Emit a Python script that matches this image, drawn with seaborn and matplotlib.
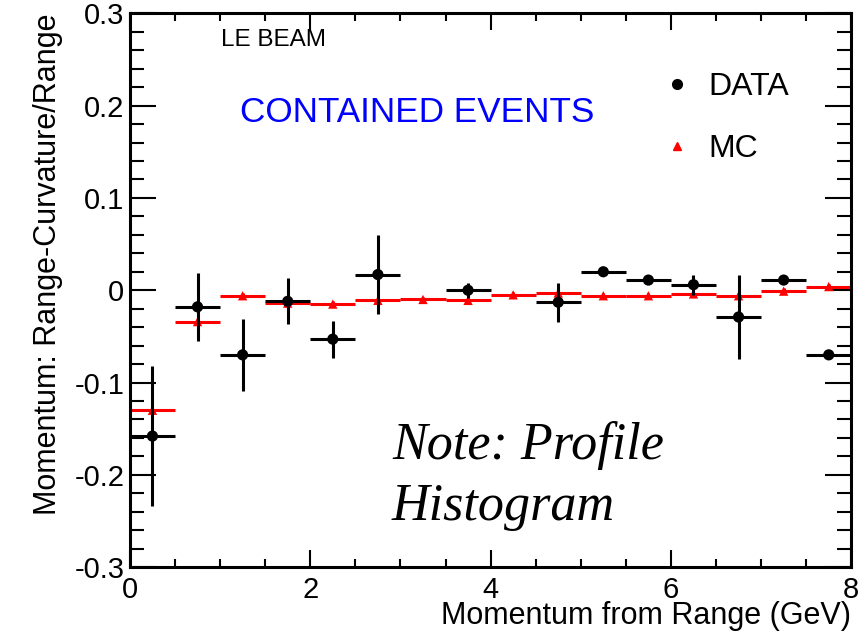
import numpy as np
import pandas as pd
import seaborn as sns
import matplotlib.pyplot as plt
from matplotlib.lines import Line2D
from matplotlib.ticker import MultipleLocator, FuncFormatter

# bin centres (GeV), bin half width 0.25
bins = [0.25, 0.75, 1.25, 1.75, 2.25, 2.75, 3.25, 3.75,
        4.25, 4.75, 5.25, 5.75, 6.25, 6.75, 7.25, 7.75]

# DATA profile (empty bins left out)
data_x = [0.25, 0.75, 1.25, 1.75, 2.25, 2.75, 3.75, 4.75,
          5.25, 5.75, 6.25, 6.75, 7.25, 7.75]
data_y = [-0.158, -0.018, -0.070, -0.012, -0.053, 0.017, 0.000, -0.013,
          0.020, 0.011, 0.006, -0.029, 0.011, -0.070]
data_err = [0.076, 0.037, 0.039, 0.025, 0.020, 0.043, 0.008, 0.021,
            0.004, 0.003, 0.011, 0.046, 0.004, 0.003]

# MC profile
mc_y = [-0.130, -0.034, -0.006, -0.014, -0.015, -0.011, -0.010, -0.011,
        -0.005, -0.003, -0.006, -0.006, -0.004, -0.006, -0.001, 0.004]
mc_err = [0.003] * 16

half_width = 0.25

df_data = pd.DataFrame({'x': data_x, 'y': data_y, 'err': data_err})
df_mc = pd.DataFrame({'x': bins, 'y': mc_y, 'err': mc_err})

sns.set_style('ticks')
plt.rcParams['font.family'] = ['Liberation Sans', 'DejaVu Sans']
plt.rcParams['axes.unicode_minus'] = False
plt.rcParams['text.color'] = 'black'
plt.rcParams['axes.labelcolor'] = 'black'

fig = plt.figure(figsize=(8.66, 6.33), dpi=100)
ax = fig.add_axes([0.150, 0.104, 0.833, 0.875])

# MC: red triangles with horizontal bin bars
ax.errorbar(df_mc['x'], df_mc['y'], xerr=half_width, yerr=df_mc['err'],
            fmt='none', ecolor='red', elinewidth=2.2, capsize=0, zorder=2)
sns.scatterplot(data=df_mc, x='x', y='y', marker='^', color='red', s=45,
                edgecolor='none', ax=ax, zorder=3)

# DATA: black dots
ax.errorbar(df_data['x'], df_data['y'], xerr=half_width, yerr=df_data['err'],
            fmt='none', ecolor='black', elinewidth=2.2, capsize=0, zorder=4)
sns.scatterplot(data=df_data, x='x', y='y', marker='o', color='black', s=65,
                edgecolor='none', ax=ax, zorder=5)

ax.set_xlim(0, 8)
ax.set_ylim(-0.3, 0.3)
ax.xaxis.set_major_locator(MultipleLocator(2))
ax.xaxis.set_minor_locator(MultipleLocator(0.5))
ax.yaxis.set_major_locator(MultipleLocator(0.1))
ax.yaxis.set_minor_locator(MultipleLocator(0.02))
ax.yaxis.set_major_formatter(FuncFormatter(lambda v, p: '%g' % round(v, 2)))
ax.tick_params(axis='both', which='both', direction='in', top=True, right=True,
               labelsize=21, colors='black', width=1.5)
ax.tick_params(axis='y', which='major', length=19, pad=4)
ax.tick_params(axis='y', which='minor', length=10)
ax.tick_params(axis='x', which='major', length=12, pad=6)
ax.tick_params(axis='x', which='minor', length=6)
for sp in ax.spines.values():
    sp.set_linewidth(2.2)
    sp.set_color('black')

ax.set_xlabel('Momentum from Range (GeV)', fontsize=22, loc='right', labelpad=-2)
ax.set_ylabel('Momentum: Range-Curvature/Range', fontsize=22, loc='top', labelpad=8)

fig.text(221 / 866, 1 - 46 / 633, 'LE BEAM', fontsize=17.5, color='black')
fig.text(240 / 866, 1 - 122 / 633, 'CONTAINED EVENTS', fontsize=25.3, color='blue')
fig.text(392 / 866, 1 - 520 / 633, 'Note: Profile\nHistogram',
         fontsize=37.5, family='Liberation Serif', style='italic', color='black',
         linespacing=1.34, va='baseline')

handles = [Line2D([], [], marker='o', color='black', linestyle='none', markersize=7),
           Line2D([], [], marker='^', color='red', linestyle='none', markersize=6)]
ax.legend(handles, ['DATA', 'MC'], frameon=False, fontsize=23,
          loc='upper left', bbox_to_anchor=(632 / 866, 1 - 43 / 633),
          bbox_transform=fig.transFigure, handletextpad=0.5, labelspacing=1.0,
          handlelength=1.0, labelcolor='black')

fig.savefig('out.png', dpi=100)
